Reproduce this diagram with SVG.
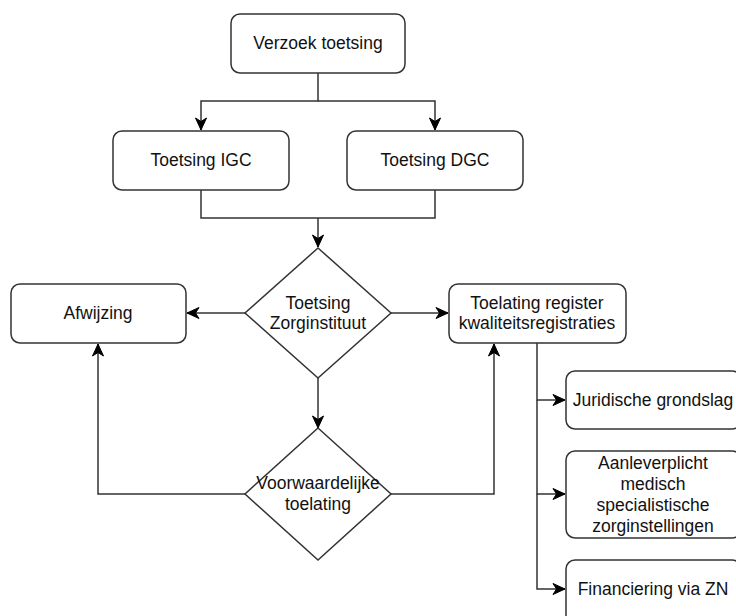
<svg xmlns="http://www.w3.org/2000/svg" width="736" height="616" viewBox="0 0 736 616">
<style>
.box{fill:#fff;stroke:#333;stroke-width:1.5}
.c{fill:none;stroke:#333;stroke-width:1.5}
text{font-family:"Liberation Sans",Arial,sans-serif;font-size:17.5px;fill:#111;text-anchor:middle}
</style>
<defs>
<marker id="a" markerUnits="userSpaceOnUse" markerWidth="16" markerHeight="16" viewBox="0 0 16 16" refX="13" refY="8" orient="auto">
<path d="M1,2.5 L13,8 L1,13.5 L4.5,8 Z" fill="#000" stroke="#000" stroke-width="1"/>
</marker>
</defs>
<rect width="736" height="616" fill="#fff"/>
<g id="connectors">
<path class="c" d="M318,73 V101 H201 V130" marker-end="url(#a)"/>
<path class="c" d="M318,101 H435 V130" marker-end="url(#a)"/>
<path class="c" d="M201,190 V218 H435 V190"/>
<path class="c" d="M318,218 V247" marker-end="url(#a)"/>
<path class="c" d="M245,313 H187" marker-end="url(#a)"/>
<path class="c" d="M391,313 H448" marker-end="url(#a)"/>
<path class="c" d="M318,378 V428" marker-end="url(#a)"/>
<path class="c" d="M245,494 H98 V344" marker-end="url(#a)"/>
<path class="c" d="M391,494 H494 V344" marker-end="url(#a)"/>
<path class="c" d="M537,343 V400 H565" marker-end="url(#a)"/>
<path class="c" d="M537,400 V494 H565" marker-end="url(#a)"/>
<path class="c" d="M537,494 V589 H565" marker-end="url(#a)"/>
</g>
<g id="verzoek"><rect class="box" x="231" y="14" width="174" height="59" rx="9"/><text x="318" y="49">Verzoek toetsing</text></g>
<g id="igc"><rect class="box" x="113" y="131" width="176" height="59" rx="9"/><text x="201" y="166">Toetsing IGC</text></g>
<g id="dgc"><rect class="box" x="347" y="131" width="176" height="59" rx="9"/><text x="435" y="166">Toetsing DGC</text></g>
<g id="zorginstituut"><path class="box" d="M318,248 L391,313 L318,378 L245,313 Z"/><text x="318" y="309">Toetsing</text><text x="318" y="329">Zorginstituut</text></g>
<g id="afwijzing"><rect class="box" x="11" y="284" width="175" height="59" rx="9"/><text x="98" y="319">Afwijzing</text></g>
<g id="toelating"><rect class="box" x="449" y="284" width="177" height="59" rx="9"/><text x="537" y="309">Toelating register</text><text x="537" y="329">kwaliteitsregistraties</text></g>
<g id="voorwaardelijk"><path class="box" d="M318,428 L391,494 L318,560 L245,494 Z"/><text x="318" y="489">Voorwaardelijke</text><text x="318" y="510">toelating</text></g>
<g id="juridisch"><rect class="box" x="566" y="371" width="175" height="58" rx="9"/><text x="653" y="406">Juridische grondslag</text></g>
<g id="aanlever"><rect class="box" x="566" y="451" width="175" height="87" rx="9"/><text x="653" y="469">Aanleverplicht</text><text x="653" y="490">medisch</text><text x="653" y="511">specialistische</text><text x="653" y="532">zorginstellingen</text></g>
<g id="financiering"><rect class="box" x="566" y="560" width="175" height="70" rx="9"/><text x="653" y="595">Financiering via ZN</text></g>
</svg>
